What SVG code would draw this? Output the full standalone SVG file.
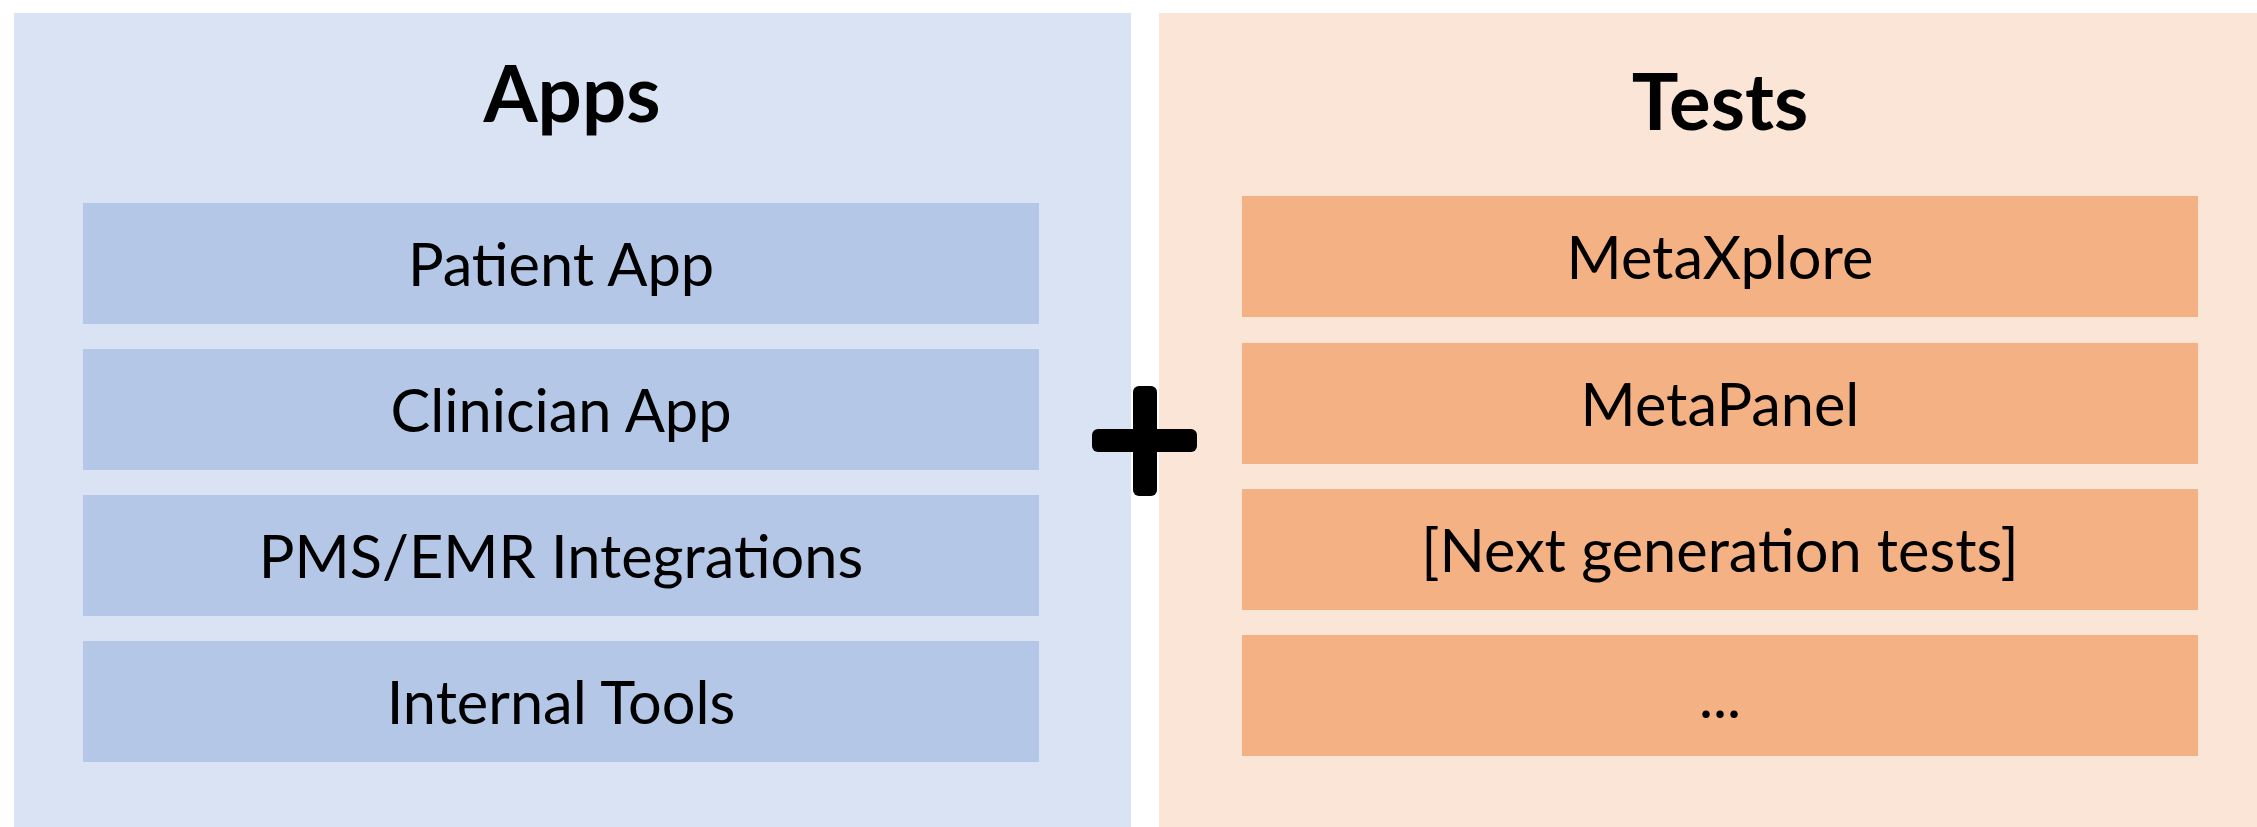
<svg xmlns="http://www.w3.org/2000/svg" width="2257" height="827" viewBox="0 0 2257 827">
<style>
.title{font-family:Lato,"Open Sans","Liberation Sans",sans-serif;font-weight:bold;font-size:78px;fill:#000;text-anchor:middle}
.lbl{font-family:Lato,"Open Sans","Liberation Sans",sans-serif;font-size:59.5px;fill:#000;text-anchor:middle}
.bbox{fill:#B4C7E7}
.obox{fill:#F4B183}
</style>
<rect width="2257" height="827" fill="#FFFFFF"/>
<g id="apps-panel">
<rect x="14" y="13" width="1117" height="814" fill="#DAE3F3"/>
<text class="title" x="572" y="122">Apps</text>
</g>
<g id="tests-panel">
<rect x="1159" y="13" width="1098" height="814" fill="#FBE5D6"/>
<text class="title" x="1720" y="130">Tests</text>
</g>
<g id="patient-app"><rect class="bbox" x="83" y="203" width="956" height="121"/><text class="lbl" x="561" y="286">Patient App</text></g>
<g id="clinician-app"><rect class="bbox" x="83" y="349" width="956" height="121"/><text class="lbl" x="561" y="432">Clinician App</text></g>
<g id="pms-emr"><rect class="bbox" x="83" y="495" width="956" height="121"/><text class="lbl" x="561" y="578">PMS/EMR Integrations</text></g>
<g id="internal-tools"><rect class="bbox" x="83" y="641" width="956" height="121"/><text class="lbl" x="561" y="724">Internal Tools</text></g>
<g id="metaxplore"><rect class="obox" x="1242" y="196" width="956" height="121"/><text class="lbl" x="1720" y="279">MetaXplore</text></g>
<g id="metapanel"><rect class="obox" x="1242" y="343" width="956" height="121"/><text class="lbl" x="1720" y="426">MetaPanel</text></g>
<g id="next-gen"><rect class="obox" x="1242" y="489" width="956" height="121"/><text class="lbl" x="1720" y="572">[Next generation tests]</text></g>
<g id="more"><rect class="obox" x="1242" y="635" width="956" height="121"/><text class="lbl" x="1720" y="718">...</text></g>
<g id="connectors">
<g id="plus" fill="#000">
<rect x="1133" y="386" width="24" height="110" rx="6"/>
<rect x="1092" y="429" width="105" height="23" rx="6"/>
</g>
</g>
</svg>
